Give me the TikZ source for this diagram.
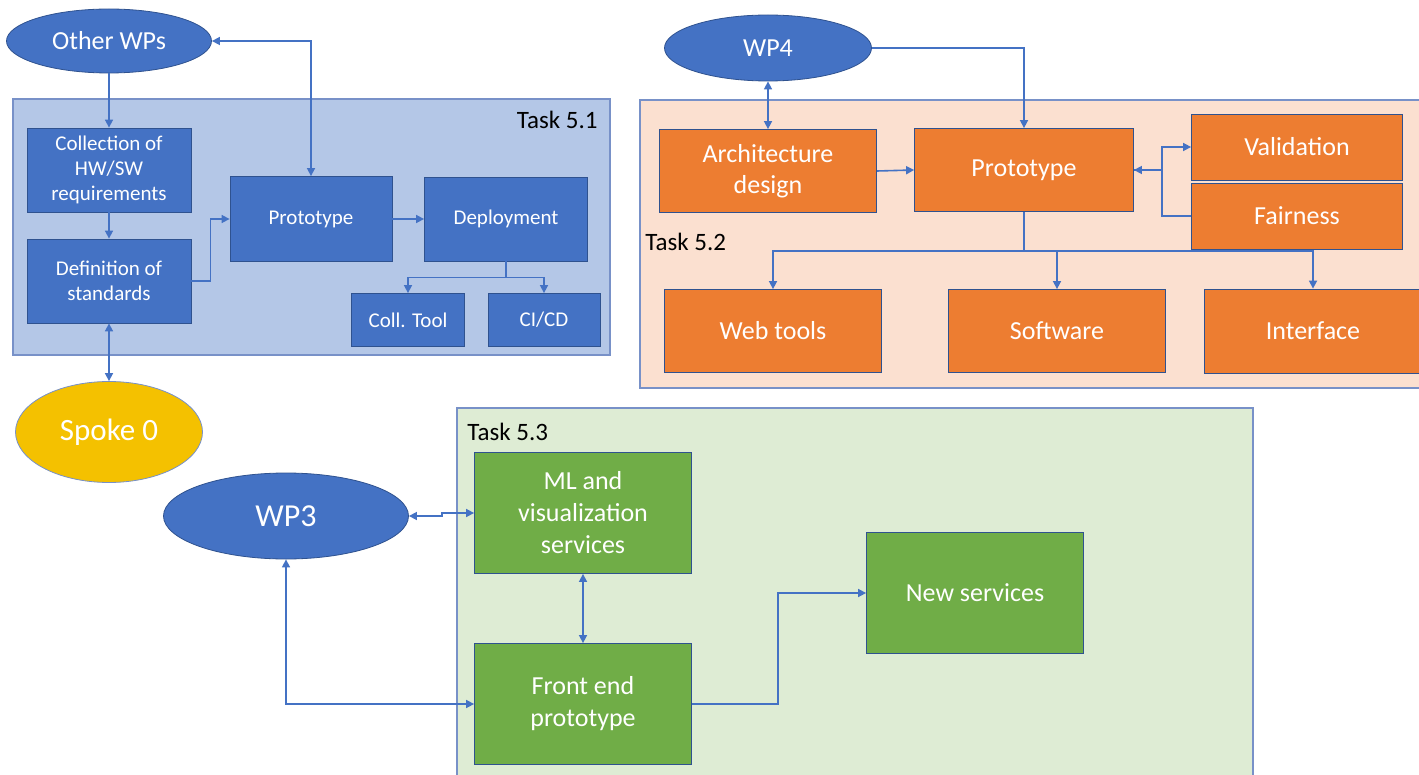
\documentclass[tikz,border=0pt]{standalone}
\usepackage{fontspec}
\setmainfont{Carlito}
\usepackage{xcolor}
\usepackage{tikz}
\definecolor{wpblue}{RGB}{68, 114, 196}
\definecolor{edgeblue}{RGB}{47, 82, 143}
\definecolor{paleblue}{RGB}{180, 199, 231}
\definecolor{taskorange}{RGB}{237, 125, 49}
\definecolor{paleorange}{RGB}{251, 224, 208}
\definecolor{taskgreen}{RGB}{112, 173, 71}
\definecolor{palegreen}{RGB}{222, 236, 212}
\definecolor{spokeyellow}{RGB}{244, 193, 0}
\definecolor{paneledge}{RGB}{120, 145, 200}
\usetikzlibrary{shapes.geometric, arrows.meta, positioning, calc}

\begin{document}
\begin{tikzpicture}[x=0.5pt, y=-0.5pt,
    >={Triangle[length=4pt, width=4pt]},
    wp/.style={ellipse, draw=edgeblue, fill=wpblue, text=white, inner sep=0pt,
               font=\fontsize{13}{16}\selectfont},
    smallbox/.style={draw=edgeblue, fill=wpblue, text=white, align=center, inner sep=0pt,
               font=\fontsize{10.5}{12.5}\selectfont},
    orangebox/.style={draw=edgeblue, fill=taskorange, text=white, align=center, inner sep=0pt,
               font=\fontsize{13}{15.5}\selectfont},
    greenbox/.style={draw=edgeblue, fill=taskgreen, text=white, align=center, inner sep=0pt,
               font=\fontsize{13}{16}\selectfont},
    panel/.style={draw=paneledge, line width=0.6pt},
    tasklabel/.style={font=\fontsize{12.5}{15}\selectfont, inner sep=0pt},
    link/.style={draw=wpblue, line width=0.8pt}
]
    \useasboundingbox (0,0) rectangle (1419,775);
    \clip (0,0) rectangle (1419,775);

    % panels
    \draw[panel, fill=paleblue] (13,99) rectangle (610,355);
    \draw[panel, fill=paleorange] (640,100) rectangle (1430,388);
    \draw[panel, fill=palegreen] (457,408) rectangle (1253,790);
    \node[tasklabel, anchor=east] (t51) at (598,120) {Task 5.1};
    \node[tasklabel, anchor=west] (t52) at (645,242) {Task 5.2};
    \node[tasklabel, anchor=west] (t53) at (467,432) {Task 5.3};

    % Task 5.1
    \node[wp, minimum width=102.5pt, minimum height=32pt] (otherwp) at (109,41) {Other WPs};
    \node[smallbox, minimum width=82pt, minimum height=42pt] (collect) at (109,170) {Collection of\\HW/SW\\requirements};
    \node[smallbox, minimum width=82pt, minimum height=42pt] (define) at (109,281) {Definition of\\standards};
    \node[smallbox, minimum width=81pt, minimum height=42.5pt] (proto1) at (311,219) {Prototype};
    \node[smallbox, minimum width=81.5pt, minimum height=42pt] (deploy) at (506,219) {Deployment};
    \node[smallbox, minimum width=56.5pt, minimum height=26.5pt] (colltool) at (408,320) {Coll. Tool};
    \node[smallbox, minimum width=56pt, minimum height=26.5pt] (cicd) at (544,320) {CI/CD};
    \node[wp, draw=paneledge, fill=spokeyellow, minimum width=93.5pt, minimum height=50.5pt,
          font=\fontsize{15.5}{18}\selectfont] (spoke) at (109,432) {Spoke 0};

    \draw[link, ->] (otherwp.south) -- (collect.north);
    \draw[link, ->] (collect.south) -- (define.north);
    \draw[link, ->] (define.east) -- ++(19,0) |- (proto1.west);
    \draw[link, <->] (otherwp.east) -| (proto1.north);
    \draw[link, ->] (proto1.east) -- (deploy.west);
    \draw[link, ->] (deploy.south) -- ++(0,16) -| (colltool.north);
    \draw[link, ->] (deploy.south) -- ++(0,16) -| (cicd.north);
    \draw[link, <->] (define.south) -- (spoke.north);

    % Task 5.2
    \node[wp, minimum width=103.5pt, minimum height=33pt] (wp4) at (768,48) {WP4};
    \node[orangebox, minimum width=108.5pt, minimum height=41.5pt] (arch) at (768,171) {Architecture\\design};
    \node[orangebox, minimum width=109.5pt, minimum height=41.5pt] (proto2) at (1024,170) {Prototype};
    \node[orangebox, minimum width=105.5pt, minimum height=33pt] (valid) at (1297,147) {Validation};
    \node[orangebox, minimum width=105.5pt, minimum height=33pt] (fair) at (1297,216) {Fairness};
    \node[orangebox, minimum width=108.5pt, minimum height=41.5pt] (webtools) at (773,331) {Web tools};
    \node[orangebox, minimum width=108.5pt, minimum height=41.5pt] (software) at (1057,331) {Software};
    \node[orangebox, minimum width=108.5pt, minimum height=42pt] (interface) at (1313,331) {Interface};

    \draw[link, <->] (wp4.south) -- (arch.north);
    \draw[link, ->] (wp4.east) -| (proto2.north);
    \draw[link, ->] (arch.east) -- (proto2.west);
    \draw[link, <->] (proto2.east) -- ++(28,0) |- (valid.west);
    \draw[link] (fair.west) -- ++(-29,0) |- (proto2.east);
    \draw[link, ->] (proto2.south) -- ++(0,39) -| (webtools.north);
    \draw[link, ->] (proto2.south) -- ++(0,39) -| (software.north);
    \draw[link, ->] (proto2.south) -- ++(0,39) -| (interface.north);

    % Task 5.3
    \node[wp, minimum width=122.5pt, minimum height=43pt,
          font=\fontsize{16}{19}\selectfont] (wp3) at (286,516) {WP3};
    \node[greenbox, minimum width=108.5pt, minimum height=60.5pt] (mlvis) at (583,513) {ML and\\visualization\\services};
    \node[greenbox, minimum width=108.5pt, minimum height=60.5pt] (frontend) at (583,704) {Front end\\prototype};
    \node[greenbox, minimum width=108.5pt, minimum height=60.5pt] (newserv) at (975,593) {New services};

    \draw[link, <->] (wp3.east) -- ++(33,0) |- (mlvis.west);
    \draw[link, <->] (mlvis.south) -- (frontend.north);
    \draw[link, <->] (wp3.south) |- (frontend.west);
    \draw[link, ->] (frontend.east) -- ++(86,0) |- (newserv.west);
\end{tikzpicture}
\end{document}
